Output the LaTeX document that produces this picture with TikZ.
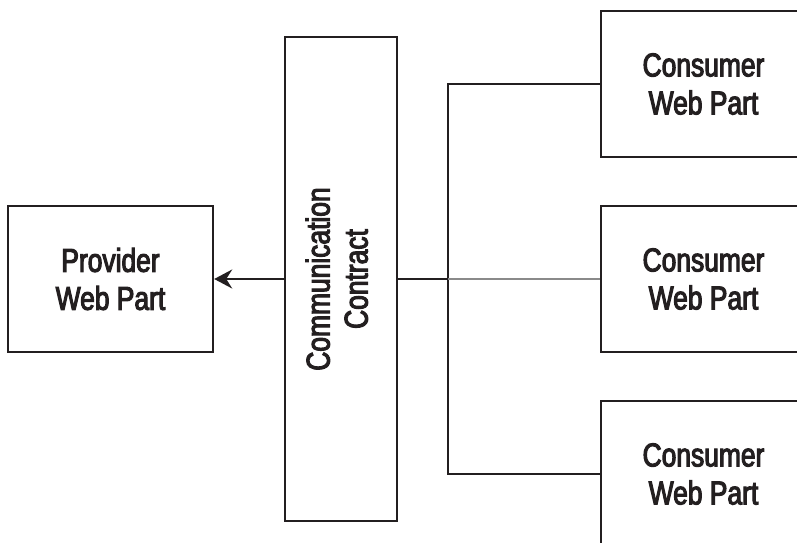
\documentclass[tikz,border=0pt]{standalone}
\usepackage{fontspec}
\setmainfont{Liberation Sans}[FakeStretch=0.8,FakeBold=3.2]
\usetikzlibrary{arrows.meta}
\definecolor{ink}{HTML}{231F20}
\definecolor{greyline}{HTML}{8A8A8A}
\begin{document}
\begin{tikzpicture}[x=1pt,y=-1pt,
  box/.style={draw=ink, line width=2.4pt, minimum width=205pt, minimum height=146pt,
    inner sep=0pt, align=center, text=ink, font=\fontsize{33}{38}\selectfont},
  tallbox/.style={draw=ink, line width=2.4pt, minimum width=112pt, minimum height=484pt,
    inner sep=0pt, text=ink, font=\fontsize{33}{38}\selectfont},
  wire/.style={draw=ink, line width=2.4pt},
  greywire/.style={draw=greyline, line width=2.4pt},
  arrowwire/.style={wire, -{Stealth[length=18pt,width=19pt,inset=6pt]}}]
\useasboundingbox (0,0) rectangle (797,542);
\clip (0,0) rectangle (797,542);
\fill[white] (0,0) rectangle (797,542);
\node[box] (provider) at (110.5,279) {Provider\\Web Part};
\node[tallbox] (contract) at (341,279)
  {\rotatebox{90}{\begin{tabular}{@{}c@{}}Communication\\Contract\end{tabular}}};
\node[box] (c1) at (703.5,84) {Consumer\\Web Part};
\node[box] (c2) at (703.5,279) {Consumer\\Web Part};
\node[box] (c3) at (703.5,474) {Consumer\\Web Part};
\coordinate (J) at (448,279);
\draw[arrowwire] (contract.west) -- (provider.east);
\draw[wire] (contract.east) -- (J);
\draw[wire] (c1.west) -- (c1.west -| J) -- (c3.west -| J) -- (c3.west);
\draw[greywire] (J) -- (c2.west);
\end{tikzpicture}
\end{document}
